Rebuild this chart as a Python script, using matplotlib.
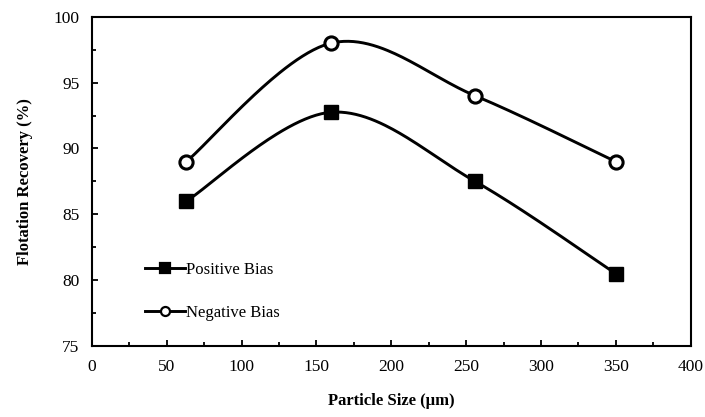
import numpy as np
import matplotlib
matplotlib.use("Agg")
import matplotlib.pyplot as plt
from matplotlib.ticker import MultipleLocator

# values
particle_size = [63, 160, 256, 350]
positive_bias = [86.0, 92.75, 87.5, 80.5]
negative_bias = [89.0, 98.0, 94.0, 89.0]
series_labels = ["Positive Bias", "Negative Bias"]


def excel_smooth(x, y, n=60):
    # Catmull-Rom style cubic Bezier, like Excel's "smoothed line"
    pts = np.column_stack([x, y]).astype(float)
    ext = np.vstack([pts[0], pts, pts[-1]])
    t = np.linspace(0.0, 1.0, n)[:, None]
    out = []
    for i in range(len(pts) - 1):
        p0, p3 = ext[i + 1], ext[i + 2]
        c1 = p0 + (ext[i + 2] - ext[i]) / 6.0
        c2 = p3 - (ext[i + 3] - ext[i + 1]) / 6.0
        seg = ((1 - t) ** 3) * p0 + 3 * ((1 - t) ** 2) * t * c1 + 3 * (1 - t) * t ** 2 * c2 + t ** 3 * p3
        out.append(seg if i == 0 else seg[1:])
    out = np.vstack(out)
    return out[:, 0], out[:, 1]


plt.rcParams["font.family"] = ["Liberation Serif", "DejaVu Serif"]
plt.rcParams["font.size"] = 12

fig = plt.figure(figsize=(7.05, 4.17), dpi=100)
ax = fig.add_axes([0.1305, 0.170, 0.849, 0.790])

styles = [
    dict(marker="s", mfc="black", mec="black", ms=10, mew=1.0),
    dict(marker="o", mfc="white", mec="black", ms=9.5, mew=2.2),
]
for yvals, label, st in zip([positive_bias, negative_bias], series_labels, styles):
    sx, sy = excel_smooth(particle_size, yvals)
    ax.plot(sx, sy, color="black", lw=2.1, zorder=2)
    ax.plot(particle_size, yvals, ls="none", zorder=3, **st)
    # legend proxy, smaller markers like the reference
    ax.plot([], [], color="black", lw=2.1, marker=st["marker"], mfc=st["mfc"],
            mec="black", ms=6.5, mew=1.6, label=label)

ax.set_xlim(0, 400)
ax.set_ylim(75, 100)
ax.xaxis.set_major_locator(MultipleLocator(50))
ax.xaxis.set_minor_locator(MultipleLocator(25))
ax.yaxis.set_major_locator(MultipleLocator(5))
ax.yaxis.set_minor_locator(MultipleLocator(2.5))
ax.tick_params(which="both", direction="in", width=1.3, top=False, right=False, labelsize=12.5)
ax.tick_params(which="major", length=4.5, pad=9)
ax.tick_params(which="minor", length=3)
for sp in ax.spines.values():
    sp.set_linewidth(1.5)

ax.set_xlabel("Particle Size (µm)", fontweight="bold", fontsize=12, labelpad=13)
ax.set_ylabel("Flotation Recovery (%)", fontweight="bold", fontsize=12, labelpad=15)

ax.legend(loc="lower left", bbox_to_anchor=(0.077, 0.055), frameon=False, fontsize=12,
          handlelength=2.4, handletextpad=0.1, labelspacing=1.65, borderaxespad=0)

fig.savefig("out.png", dpi=100)
